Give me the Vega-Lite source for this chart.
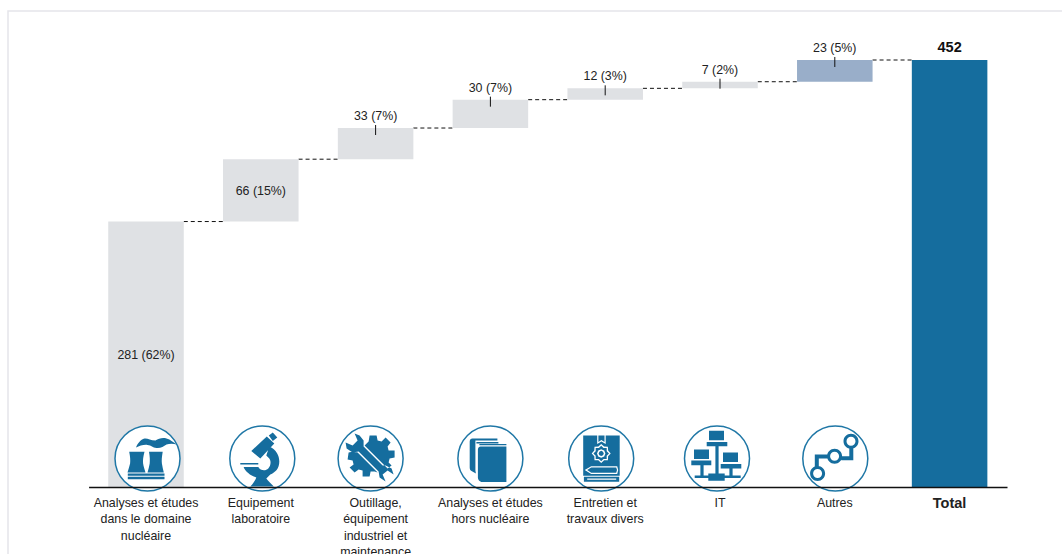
{
  "$schema": "https://vega.github.io/schema/vega-lite/v6.json",
  "autosize": "none",
  "padding": {"left": 8, "top": 11, "right": 0, "bottom": 0},
  "width": 1060,
  "height": 545,
  "background": "#ffffff",
  "view": {"stroke": "#e5e5ea", "strokeWidth": 1.5},
  "params": [
    {"name": "iconNudge", "value": {"nuc": 1.5, "lab": 1.5, "tool": -5, "book": 0, "maint": -4, "it": -3, "other": 0.5}}
  ],
  "data": {
    "values": [
      {"key": "nuc", "cat": "Analyses et études|dans le domaine|nucléaire", "next": "Equipement|laboratoire", "start": 0, "end": 281, "label": "281 (62%)", "kind": "share"},
      {"key": "lab", "cat": "Equipement|laboratoire", "next": "Outillage,|équipement|industriel et|maintenance", "start": 281, "end": 347, "label": "66 (15%)", "kind": "share"},
      {"key": "tool", "cat": "Outillage,|équipement|industriel et|maintenance", "next": "Analyses et études|hors nucléaire", "start": 347, "end": 380, "label": "33 (7%)", "kind": "share"},
      {"key": "book", "cat": "Analyses et études|hors nucléaire", "next": "Entretien et|travaux divers", "start": 380, "end": 410, "label": "30 (7%)", "kind": "share"},
      {"key": "maint", "cat": "Entretien et|travaux divers", "next": "IT", "start": 410, "end": 422, "label": "12 (3%)", "kind": "share"},
      {"key": "it", "cat": "IT", "next": "Autres", "start": 422, "end": 429, "label": "7 (2%)", "kind": "share"},
      {"key": "other", "cat": "Autres", "next": "Total", "start": 429, "end": 452, "label": "23 (5%)", "kind": "other"},
      {"key": "total", "cat": "Total", "start": 0, "end": 452, "label": "452", "kind": "total"}
    ]
  },
  "encoding": {
    "x": {
      "field": "cat",
      "type": "nominal",
      "sort": null,
      "scale": {"range": [80.6, 999], "paddingInner": 0.342, "paddingOuter": 0.171},
      "axis": {
        "title": null,
        "orient": "bottom",
        "offset": -69,
        "zindex": 1,
        "ticks": false,
        "grid": false,
        "domainColor": "#111111",
        "domainWidth": 1.5,
        "labelAngle": 0,
        "labelOverlap": false,
        "labelBound": false,
        "labelFlush": false,
        "labelLimit": 300,
        "labelPadding": 9,
        "labelFont": "Liberation Sans",
        "labelColor": "#222222",
        "labelLineHeight": 16.6,
        "labelExpr": "split(datum.label, '|')",
        "labelFontSize": {"condition": {"test": "datum.label == 'Total'", "value": 14.5}, "value": 12.4},
        "labelFontWeight": {"condition": {"test": "datum.label == 'Total'", "value": "bold"}, "value": "normal"}
      }
    },
    "y": {
      "type": "quantitative",
      "scale": {"domain": [0, 452], "range": [476, 49], "nice": false, "zero": true},
      "axis": null
    }
  },
  "layer": [
    {
      "transform": [{"filter": "datum.next != null"}],
      "mark": {"type": "rule", "color": "#111111", "strokeWidth": 1, "strokeDash": [4, 3]},
      "encoding": {
        "x": {"field": "cat", "type": "nominal", "bandPosition": 1},
        "x2": {"field": "next", "bandPosition": 0},
        "y": {"field": "end", "type": "quantitative"}
      }
    },
    {
      "mark": {"type": "bar"},
      "encoding": {
        "y": {"field": "start", "type": "quantitative"},
        "y2": {"field": "end"},
        "color": {
          "field": "kind",
          "type": "nominal",
          "legend": null,
          "scale": {"domain": ["share", "other", "total"], "range": ["#dfe1e4", "#99aec9", "#156d9e"]}
        }
      }
    },
    {
      "transform": [{"filter": "datum.key != 'total'"}],
      "mark": {"type": "point", "shape": "circle", "filled": false, "fill": "#ffffff", "fillOpacity": 1, "opacity": 1, "stroke": "#1f77a6", "strokeWidth": 1.5, "size": 4225, "xOffset": {"expr": "iconNudge[datum.key]"}},
      "encoding": {"y": {"datum": 30.2}}
    },
    {
      "transform": [{"filter": "datum.key != 'total'"}],
      "mark": {"type": "point", "filled": true, "color": "#156d9e", "opacity": 1, "size": 4, "xOffset": {"expr": "iconNudge[datum.key]"}},
      "encoding": {
        "y": {"datum": 30.2},
        "shape": {
          "field": "key",
          "type": "nominal",
          "legend": null,
          "scale": {
            "domain": ["nuc", "lab", "tool", "book", "maint", "it", "other"],
            "range": [
              "M-18.3 -6.7L-3 -6.7C-4.3 -2 -4.8 2 -4.4 5C-4 8 -2.8 11 -2 14L-20 14C-19.2 11 -18 8 -17.4 5C-17 2 -17.3 -2 -18.3 -6.7ZM1.5 -6.7L15.2 -6.7C14.4 -2 14 2 14.4 5C14.8 8 15.6 11 16.3 14L0 14C0.8 11 1.8 8 2.2 5C2.5 2 2.4 -2 1.5 -6.7ZM-19.7 15L17 15L17 17.3L-19.7 17.3ZM-19.7 18.3L17 18.3L17 20.7L-19.7 20.7ZM-11.5 -11C-10 -15 -7 -19 -3 -20C0 -20.5 3 -18 8 -18C11 -20 15 -21 19 -20C23 -19 26 -16 29 -14C26 -15 22 -15 19 -14C16 -12 13 -10 9 -10.5C5 -11 4 -13 0 -13.5C-4 -14 -8 -12.5 -11.5 -11Z",
              "M-11 -7.5L4.5 -22L12 -15L-2 0ZM6.5 -23L10.5 -26L15 -21L10.5 -17.5ZM7 -12C14 -9 17 -3 17 3C17 10 13 14 8 16L4 20C6 23 9 25 11.5 28L-12 28C-9 25 -7 22 -6 19C-12 17 -17 13 -18.7 8.5L-4 8.5C-2 12 3 13 6 10C9 7 9 1 6 -1L4 -3ZM-22 4.5L-4 4.5L-4 6L-22 6Z",
              "M-16 -25L-13 -18L-18 -13L-25 -16L-24 -10L-18 -6L-12 -7L8 13L9 19L15 23L12 16L17 12L23 16L21 10L15 7L12 7L-7 -12L-7 -18L-11 -23ZM-6 -13L-2 -17L-1 -23L6 -23L7 -18L11 -17L15 -21L20 -16L17 -12L18 -8L24 -8L24 -1L19 0L18 4L21 7L17 10ZM-13 -6L-17 -7L-22 -6L-23 1L-18 2L-17 6L-21 9L-16 14L-12 11L-8 12L-8 18L-1 18L0 13L4 13L7 14Z",
              "M-10 -12L16 -12L16 23.5L-8 23.5C-11 23.5 -12.5 21 -12.5 19L-12.5 -9C-12.5 -11 -11 -12 -10 -12ZM-18 -20L7 -20L7 -18L-15 -18L-15 12L-14.5 15L-18 13C-20 12 -20.7 11 -20.7 9L-20.7 -17C-20.7 -19 -19.5 -20 -18 -20ZM-14 -16.5L8 -16.5L8 -15L-14 -15ZM-11 -14.5L16 -14.5L16 -13.3L-11 -13.3Z",
              "M-18 -23L18.5 -23L18.5 17.3L-18 17.3ZM4.5 -23L-4 -23L-4 -14.5L0.2 -17L4.5 -14.5ZM-2.8 -23L3.3 -23L3.3 -16.5L0.2 -18.5L-2.8 -16.5ZM9.5 -5L6.9 -7.9L6.7 -11.7L2.9 -11.9L0 -14.5L-2.9 -11.9L-6.7 -11.7L-6.9 -7.9L-9.5 -5L-6.9 -2.1L-6.7 1.7L-2.9 1.9L0 4.5L2.9 1.9L6.7 1.7L6.9 -2.1ZM7.8 -5L5.5 -2.7L5.5 0.5L2.3 0.5L0 2.8L-2.3 0.5L-5.5 0.5L-5.5 -2.7L-7.8 -5L-5.5 -7.3L-5.5 -10.5L-2.3 -10.5L0 -12.8L2.3 -10.5L5.5 -10.5L5.5 -7.3ZM4.2 -5L3 -8L0 -9.2L-3 -8L-4.2 -5L-3 -2L0 -0.8L3 -2ZM2.6 -5L1.8 -3.2L0 -2.4L-1.8 -3.2L-2.6 -5L-1.8 -6.8L0 -7.6L1.8 -6.8ZM-16.5 11.5L-10 15.5L16 15.5L17 11.5L16 7.7L-10 7.7ZM-10 9L15 9L15.8 11.5L15 14.3L-10 14.3L-14 11.5ZM-17.3 18.3L18 18.3L18 23.3L-17.3 23.3ZM-14 21.4L15 21.4L15 20L-14 20Z",
              "M-8 -27.7L7 -27.7L7 -18.3L-8 -18.3ZM-10.3 -16.5L10.3 -16.5L10.3 -12.3L-10.3 -12.3ZM-1.6 -12.3L1.6 -12.3L1.6 16L-1.6 16ZM-23 -9L-8 -9L-8 0.5L-23 0.5ZM-25.7 2L-5.7 2L-5.7 6.7L-25.7 6.7ZM-16.6 6.7L-13.4 6.7L-13.4 18L-16.6 18ZM6 -6L21 -6L21 3.5L6 3.5ZM3.7 5.5L24.3 5.5L24.3 10L3.7 10ZM12.4 10L15.6 10L15.6 18L12.4 18ZM-22.3 17L23.7 17L23.7 19.6L-22.3 19.6ZM-8.7 15L7.7 15L7.7 22.3L-8.7 22.3Z",
              "M-25.2 15A7.5 7.5 0 1 1 -10.2 15A7.5 7.5 0 1 1 -25.2 15ZM-22.2 15A4.5 4.5 0 1 0 -13.2 15A4.5 4.5 0 1 0 -22.2 15ZM-8.2 -2.3A7.5 7.5 0 1 1 6.8 -2.3A7.5 7.5 0 1 1 -8.2 -2.3ZM-5.2 -2.3A4.5 4.5 0 1 0 3.8 -2.3A4.5 4.5 0 1 0 -5.2 -2.3ZM8.2 -17.3A7.5 7.5 0 1 1 23.2 -17.3A7.5 7.5 0 1 1 8.2 -17.3ZM11.2 -17.3A4.5 4.5 0 1 0 20.2 -17.3A4.5 4.5 0 1 0 11.2 -17.3ZM-20.5 -4L-7.8 -4L-7.8 0L-16.5 0L-16.5 8.5L-20.5 8.5ZM6 -2.3L14 -2.3L14 -10.5L18 -10.5L18 1.7L6 1.7Z"
            ]
          }
        }
      }
    },
    {
      "transform": [
        {"filter": "datum.key != 'nuc' && datum.key != 'lab' && datum.key != 'total'"},
        {"calculate": "datum.end + 3.2", "as": "leaderTop"},
        {"calculate": "datum.end - 7.4", "as": "leaderBottom"}
      ],
      "mark": {"type": "rule", "color": "#111111", "strokeWidth": 1},
      "encoding": {
        "y": {"field": "leaderTop", "type": "quantitative"},
        "y2": {"field": "leaderBottom"}
      }
    },
    {
      "transform": [{"filter": "datum.key != 'nuc' && datum.key != 'lab' && datum.key != 'total'"}],
      "mark": {"type": "text", "font": "Liberation Sans", "fontSize": 12.4, "color": "#222222", "baseline": "alphabetic", "dy": -8},
      "encoding": {
        "y": {"field": "end", "type": "quantitative"},
        "text": {"field": "label"}
      }
    },
    {
      "transform": [
        {"filter": "datum.key == 'nuc' || datum.key == 'lab'"},
        {"calculate": "(datum.start + datum.end) / 2", "as": "mid"}
      ],
      "mark": {"type": "text", "font": "Liberation Sans", "fontSize": 12.4, "color": "#222222", "baseline": "middle", "dy": 1},
      "encoding": {
        "y": {"field": "mid", "type": "quantitative"},
        "text": {"field": "label"}
      }
    },
    {
      "transform": [{"filter": "datum.key == 'total'"}],
      "mark": {"type": "text", "font": "Liberation Sans", "fontSize": 14.5, "fontWeight": "bold", "color": "#111111", "baseline": "alphabetic", "dy": -8},
      "encoding": {
        "y": {"field": "end", "type": "quantitative"},
        "text": {"field": "label"}
      }
    }
  ]
}
